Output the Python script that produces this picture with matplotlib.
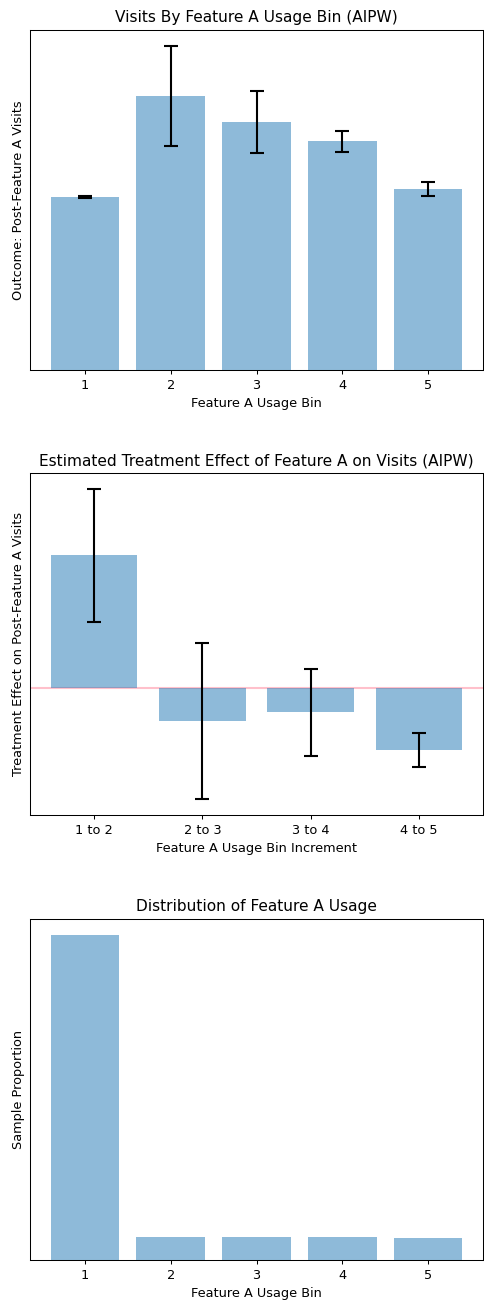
import matplotlib
matplotlib.use("Agg")
import matplotlib.pyplot as plt

bins = ["1", "2", "3", "4", "5"]
visits = [173, 273, 247, 228, 181]
visits_err = [1, 50, 31, 10.5, 7]

increments = ["1 to 2", "2 to 3", "3 to 4", "4 to 5"]
effects = [132, -33.5, -24.5, -62]
effects_err = [66.5, 78, 43.5, 17]

proportions = [325, 23, 23, 23, 22]

s = 0.925
plt.rcParams.update({
    "font.size": 10 * s,
    "axes.titlesize": 12 * s,
    "axes.titlepad": 6 * s,
    "axes.labelpad": 4 * s,
    "axes.linewidth": 0.8 * s,
    "xtick.major.size": 3.5 * s,
    "xtick.major.pad": 3.5 * s,
    "xtick.major.width": 0.8 * s,
})

W, H = 484, 1300
fig = plt.figure(figsize=(W / 100, H / 100), dpi=100)

def ax_at(top, bottom, left=30, right=483):
    return fig.add_axes([left / W, 1 - bottom / H, (right - left) / W, (bottom - top) / H])

ek = dict(ecolor="black", capsize=5, elinewidth=1.5, capthick=1.5)

ax1 = ax_at(30, 370)
ax1.bar(bins, visits, yerr=visits_err, alpha=0.5, error_kw=ek)
ax1.set_title("Visits By Feature A Usage Bin (AIPW)")
ax1.set_xlabel("Feature A Usage Bin")
ax1.set_ylabel("Outcome: Post-Feature A Visits")
ax1.set_yticks([])

ax2 = ax_at(473, 815)
ax2.bar(increments, effects, yerr=effects_err, alpha=0.5, error_kw=ek)
ax2.axhline(0, color="pink", linewidth=1.5, zorder=0.5)
ax2.set_title("Estimated Treatment Effect of Feature A on Visits (AIPW)")
ax2.set_xlabel("Feature A Usage Bin Increment")
ax2.set_ylabel("Treatment Effect on Post-Feature A Visits")
ax2.set_yticks([])

ax3 = ax_at(919, 1260)
ax3.bar(bins, proportions, alpha=0.5)
ax3.set_title("Distribution of Feature A Usage")
ax3.set_xlabel("Feature A Usage Bin")
ax3.set_ylabel("Sample Proportion")
ax3.set_yticks([])

fig.savefig("out.png", dpi=100)
